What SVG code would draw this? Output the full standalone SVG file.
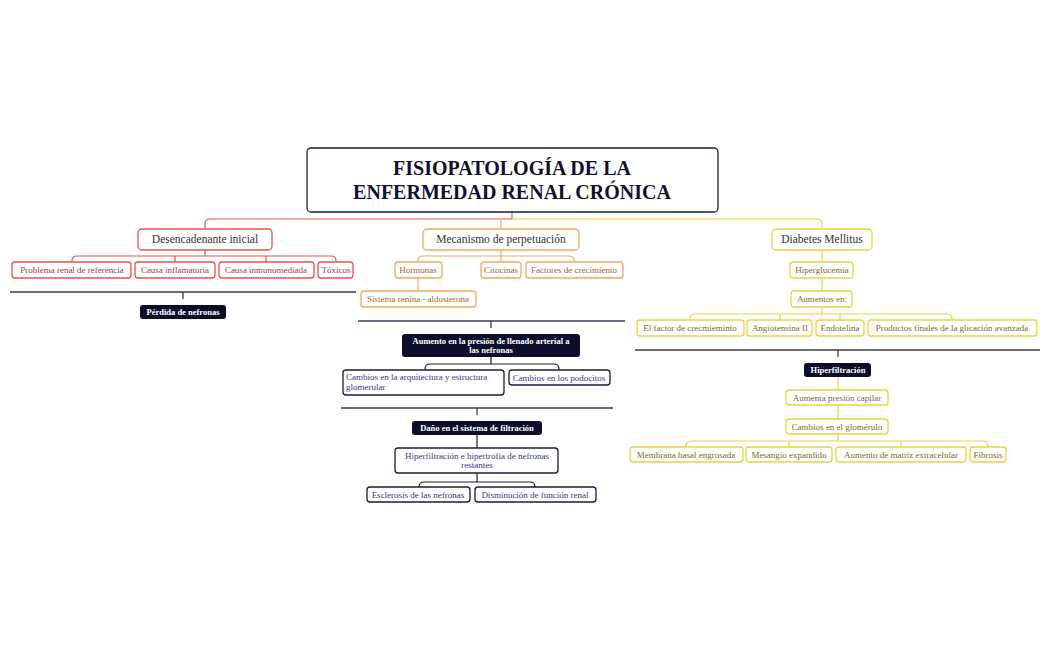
<svg xmlns="http://www.w3.org/2000/svg" width="1050" height="650" viewBox="0 0 1050 650">
<style>
text{font-family:"Liberation Serif","DejaVu Serif",serif;text-anchor:middle}
.r{fill:#fff;stroke:#e8504f;stroke-width:1.3}
.o{fill:#fff;stroke:#f5a85e;stroke-width:1.3}
.y{fill:#fff;stroke:#f2d03b;stroke-width:1.3}
.n{fill:#fff;stroke:#1b1b3a;stroke-width:1.3}
.d{fill:#0d0d2b}
.tr{fill:#9b3b3b;font-size:9px}
.to{fill:#a5632a;font-size:9px}
.ty{fill:#7d6a1c;font-size:9px}
.tn{fill:#35358a;font-size:9px}
.td{fill:#fff;font-size:8.5px;font-weight:bold}
.cr{stroke:#e8504f;fill:none;stroke-width:1.2}
.co{stroke:#f5a85e;fill:none;stroke-width:1.2}
.cy{stroke:#f2d03b;fill:none;stroke-width:1.2}
.cn{stroke:#1b1b3a;fill:none;stroke-width:1.2}
.sep{stroke:#3a3a55;stroke-width:1.3}
</style>
<g id="connectors">
<path class="cr" d="M512 212V219H210Q205 219 205 224V229"/>
<path class="co" d="M501 219V229"/>
<path class="cy" d="M512 219H817Q822 219 822 224V229"/>
<path class="cr" d="M205 250V256M77 256H331M77 256Q72 256 72 261V262M331 256Q336 256 336 261V262M175 256V262M266 256V262"/>
<path class="co" d="M501 250V262M423 256H569M423 256Q418 256 418 261V262M569 256Q574 256 574 261V262M418 278V291"/>
<path class="cy" d="M822 250V262M822 278V291M822 307V314M695 314H947M695 314Q690 314 690 319V320M947 314Q952 314 952 319V320M780 314V320M840 314V320"/>
<line class="sep" x1="10" y1="292" x2="356" y2="292"/><line class="sep" x1="183" y1="292" x2="183" y2="299"/>
<line class="sep" x1="358" y1="321" x2="625" y2="321"/><line class="sep" x1="491" y1="321" x2="491" y2="328"/>
<line class="sep" x1="341" y1="408" x2="613" y2="408"/><line class="sep" x1="477" y1="408" x2="477" y2="415"/>
<line class="sep" x1="635" y1="350" x2="1040" y2="350"/><line class="sep" x1="838" y1="350" x2="838" y2="357"/>
<path class="cn" d="M491 357V364M430 364H554M430 364Q425 364 425 369V370M554 364Q559 364 559 369V370"/>
<path class="cn" d="M477 435V448M477 473V482M424 482H530M424 482Q419 482 419 487M530 482Q535 482 535 487"/>
<path class="cy" d="M838 377V390M838 405V419M838 434V441M691 441H983M691 441Q686 441 686 446V447M983 441Q988 441 988 446V447M789 441V447M901 441V447"/>
</g>
<g id="title"><rect class="n" x="307" y="148" width="411" height="64" rx="4"/>
<text x="512" y="175" style="font-size:20px;font-weight:bold;fill:#10102e">FISIOPATOLOGÍA DE LA</text>
<text x="512" y="199" style="font-size:20px;font-weight:bold;fill:#10102e">ENFERMEDAD RENAL CRÓNICA</text></g>
<g id="desencadenante"><rect class="r" x="138" y="229" width="134" height="21" rx="4"/><text x="205" y="243" style="font-size:11.5px;fill:#333">Desencadenante inicial</text></g>
<g id="mecanismo"><rect class="o" x="423" y="229" width="156" height="21" rx="4"/><text x="501" y="243" style="font-size:11.5px;fill:#333">Mecanismo de perpetuación</text></g>
<g id="diabetes"><rect class="y" x="772" y="229" width="100" height="21" rx="4"/><text x="822" y="243" style="font-size:11.5px;fill:#333">Diabetes Mellitus</text></g>
<g id="problema"><rect class="r" x="12" y="262" width="119" height="16" rx="3"/><text class="tr" x="72" y="273">Problema renal de referencia</text></g>
<g id="inflamatoria"><rect class="r" x="135" y="262" width="80" height="16" rx="3"/><text class="tr" x="175" y="273">Causa inflamatoria</text></g>
<g id="inmunomediada"><rect class="r" x="219" y="262" width="95" height="16" rx="3"/><text class="tr" x="266" y="273">Causa inmunomediada</text></g>
<g id="toxicos"><rect class="r" x="318" y="262" width="35" height="16" rx="3"/><text class="tr" x="336" y="273">Tóxicos</text></g>
<g id="perdida"><rect class="d" x="140" y="305" width="86" height="14" rx="3"/><text class="td" x="183" y="315">Pérdida de nefronas</text></g>
<g id="hormonas"><rect class="o" x="395" y="262" width="47" height="16" rx="3"/><text class="to" x="418" y="273">Hormonas</text></g>
<g id="citocinas"><rect class="o" x="481" y="262" width="40" height="16" rx="3"/><text class="to" x="501" y="273">Citocinas</text></g>
<g id="factores"><rect class="o" x="526" y="262" width="97" height="16" rx="3"/><text class="to" x="574" y="273">Factores de crecimiento</text></g>
<g id="renina"><rect class="o" x="361" y="291" width="115" height="16" rx="3"/><text class="to" x="418" y="302">Sistema renina - aldosterona</text></g>
<g id="aumento"><rect class="d" x="402" y="334" width="178" height="23" rx="3"/><text class="td" x="491" y="344">Aumento en la presión de llenado arterial a</text><text class="td" x="491" y="353">las nefronas</text></g>
<g id="arquitectura"><rect class="n" x="343" y="370" width="161" height="25" rx="3"/><text class="tn" x="346" y="380" style="text-anchor:start">Cambios en la arquitectura y estructura</text><text class="tn" x="346" y="390" style="text-anchor:start">glomerular</text></g>
<g id="podocitos"><rect class="n" x="509" y="370" width="101" height="15" rx="3"/><text class="tn" x="559" y="381">Cambios en los podocitos</text></g>
<g id="dano"><rect class="d" x="412" y="421" width="130" height="14" rx="3"/><text class="td" x="477" y="431">Daño en el sistema de filtración</text></g>
<g id="hiperfiltracion-hipertrofia"><rect class="n" x="395" y="448" width="163" height="25" rx="3"/><text class="tn" x="477" y="459">Hiperfiltración e hipertrofia de nefronas</text><text class="tn" x="477" y="468">restantes</text></g>
<g id="esclerosis"><rect class="n" x="367" y="487" width="103" height="15" rx="3"/><text class="tn" x="418" y="498">Esclerosis de las nefronas</text></g>
<g id="disminucion"><rect class="n" x="475" y="487" width="121" height="15" rx="3"/><text class="tn" x="535" y="498">Disminución de función renal</text></g>
<g id="hiperglucemia"><rect class="y" x="790" y="262" width="63" height="16" rx="3"/><text class="ty" x="822" y="273">Hiperglucemia</text></g>
<g id="aumentos"><rect class="y" x="791" y="291" width="61" height="16" rx="3"/><text class="ty" x="822" y="302">Aumentos en:</text></g>
<g id="factor"><rect class="y" x="637" y="320" width="107" height="16" rx="3"/><text class="ty" x="690" y="331">El factor de crecmieminto</text></g>
<g id="angiotensina"><rect class="y" x="747" y="320" width="65" height="16" rx="3"/><text class="ty" x="780" y="331">Angiotensina II</text></g>
<g id="endotelina"><rect class="y" x="816" y="320" width="48" height="16" rx="3"/><text class="ty" x="840" y="331">Endotelina</text></g>
<g id="productos"><rect class="y" x="868" y="320" width="169" height="16" rx="3"/><text class="ty" x="952" y="331">Productos finales de la glicación avanzada</text></g>
<g id="hiperfiltracion"><rect class="d" x="804" y="363" width="67" height="14" rx="3"/><text class="td" x="838" y="373">Hiperfiltración</text></g>
<g id="presion"><rect class="y" x="786" y="390" width="102" height="15" rx="3"/><text class="ty" x="837" y="401">Aumenta presión capilar</text></g>
<g id="glomerulo"><rect class="y" x="786" y="419" width="102" height="15" rx="3"/><text class="ty" x="837" y="430">Cambios en el glomérulo</text></g>
<g id="membrana"><rect class="y" x="630" y="447" width="113" height="15" rx="3"/><text class="ty" x="686" y="458">Membrana basal engrosada</text></g>
<g id="mesangio"><rect class="y" x="746" y="447" width="86" height="15" rx="3"/><text class="ty" x="789" y="458">Mesangio expandido</text></g>
<g id="matriz"><rect class="y" x="836" y="447" width="130" height="15" rx="3"/><text class="ty" x="901" y="458">Aumento de matriz extracelular</text></g>
<g id="fibrosis"><rect class="y" x="970" y="447" width="36" height="15" rx="3"/><text class="ty" x="988" y="458">Fibrosis</text></g>
</svg>
